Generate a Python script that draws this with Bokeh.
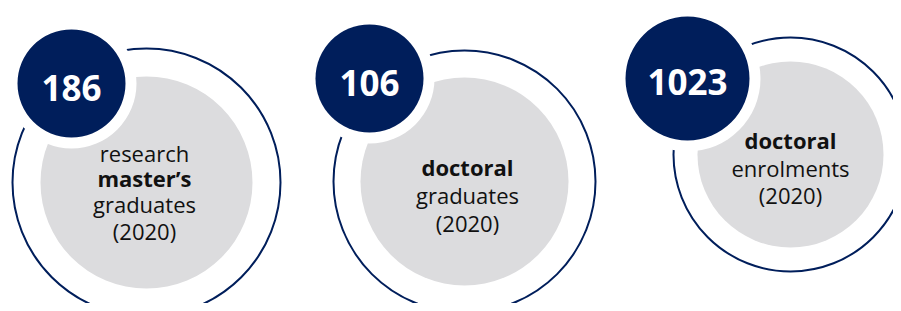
from bokeh.plotting import figure
from bokeh.models import Range1d
from bokeh.core.properties import value
from bokeh.embed import file_html
from bokeh.resources import INLINE

# ---- data ----
numbers = ["186", "106", "1023"]
label_lines = [
    ["research", "master\u2019s", "graduates", "(2020)"],
    ["doctoral", "graduates", "(2020)"],
    ["doctoral", "enrolments", "(2020)"],
]
label_bold = [
    [False, True, False, False],
    [True, False, False],
    [True, False, False],
]

# ---- layout (pixel coordinates) ----
ring_cx = [146, 464, 790]
ring_cy = [182, 181, 154]
ring_r = [134, 131, 117]
gray_r = [106, 104, 93]
dark_cx = [71, 369, 687]
dark_cy = [83, 78, 78]
dark_r = [54, 54, 62]
halo_pad = 11
num_base = [87, 82, 81]
text_cx = [144, 467, 790]
text_base = [
    [152, 177, 203, 230],
    [166, 194, 222],
    [139, 167, 194],
]

NAVY = "#001E5B"
GRAY = "#DCDCDE"
FONT = "Open Sans"

W, H = 893, 303
p = figure(width=W, height=H, output_backend="svg", toolbar_location=None,
           x_range=Range1d(0, W), y_range=Range1d(H, 0),
           min_border=0, outline_line_color=None, background_fill_color="white")
p.axis.visible = False
p.grid.visible = False

p.circle(x=ring_cx, y=ring_cy, radius=ring_r, fill_color=None,
         line_color=NAVY, line_width=2)
p.circle(x=ring_cx, y=ring_cy, radius=gray_r, fill_color=GRAY, line_color=None)
p.circle(x=dark_cx, y=dark_cy, radius=[r + halo_pad for r in dark_r],
         fill_color="white", line_color=None)
p.circle(x=dark_cx, y=dark_cy, radius=dark_r, fill_color=NAVY, line_color=None)

p.text(x=dark_cx, y=num_base, text=numbers, text_color="white",
       text_font=value(FONT), text_font_style="bold", text_font_size="35px",
       text_align="center", text_baseline="alphabetic")

for i in range(3):
    for j, line in enumerate(label_lines[i]):
        p.text(x=[text_cx[i]], y=[text_base[i][j]], text=[line],
               text_color="#111111", text_font=value(FONT),
               text_font_style="bold" if label_bold[i][j] else "normal",
               text_font_size="22px", text_align="center",
               text_baseline="alphabetic")

open("out.html", "w").write(file_html(p, INLINE))
